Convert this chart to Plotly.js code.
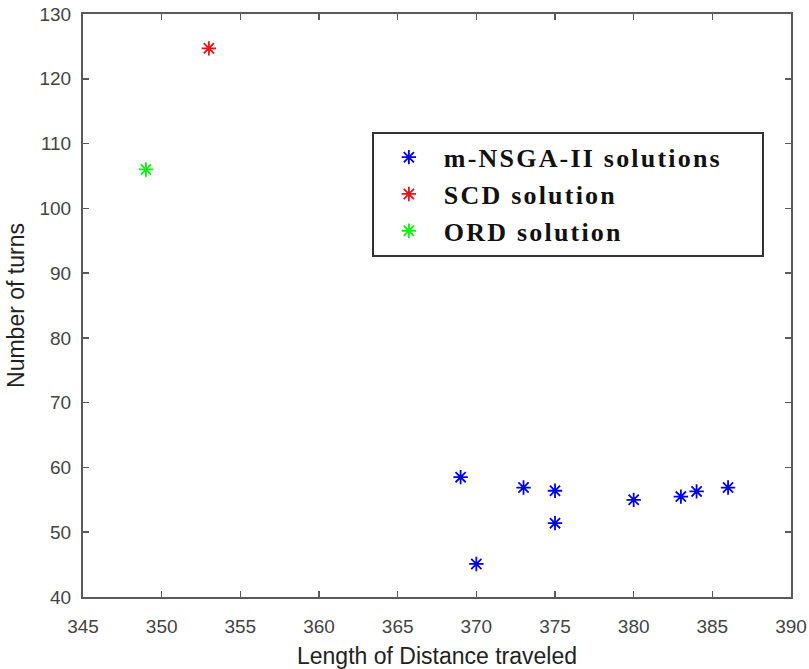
<!DOCTYPE html>
<html>
<head>
<meta charset="utf-8">
<script src="https://cdn.plot.ly/plotly-3.0.1.min.js"></script>
<style>html,body{margin:0;padding:0;background:#fff}#chart{width:809px;height:669px}</style>
</head>
<body>
<div id="chart"></div>
<script>
const nsgaX = [369, 370, 373, 375, 375, 380, 383, 384, 386];
const nsgaY = [58.5, 45.1, 56.9, 56.4, 51.4, 55.0, 55.5, 56.3, 56.9];
const scdX = [353];
const scdY = [124.7];
const ordX = [349];
const ordY = [106];
const xTicks = [345, 350, 355, 360, 365, 370, 375, 380, 385, 390];
const yTicks = [40, 50, 60, 70, 80, 90, 100, 110, 120, 130];
const seriesNames = ['m-NSGA-II solutions', 'SCD solution', 'ORD solution'];

function trace(x, y, name, color) {
  return {x: x, y: y, name: '<span style="letter-spacing:2.2px">' + name + '\u00A0\u00A0\u00A0\u00A0</span>', type: 'scatter', mode: 'markers',
    marker: {symbol: 'asterisk-open', size: 12, color: color, line: {color: color, width: 1.8}}};
}
const data = [
  trace(nsgaX, nsgaY, seriesNames[0], '#0000ee'),
  trace(scdX, scdY, seriesNames[1], '#ee1111'),
  trace(ordX, ordY, seriesNames[2], '#11ee11')
];
const axisCommon = {showgrid: false, zeroline: false, showline: true, mirror: 'ticks',
  linecolor: '#5a5a5a', linewidth: 2, ticks: 'inside', ticklen: 6, tickcolor: '#5a5a5a', tickwidth: 1.5,
  tickfont: {family: 'Liberation Sans, Arial', size: 19, color: '#444'}};
const layout = {
  width: 809, height: 669,
  margin: {l: 83, r: 18, t: 14, b: 72},
  paper_bgcolor: '#fff', plot_bgcolor: '#fff',
  showlegend: true,
  legend: {x: 0.408, y: 0.798, xanchor: 'left', yanchor: 'top',
    bordercolor: '#333', borderwidth: 2, bgcolor: '#fff',
    font: {family: 'Liberation Serif, Times New Roman', size: 26, color: '#111', weight: 'bold'},
    itemwidth: 60, tracegroupgap: 0},
  xaxis: Object.assign({}, axisCommon, {range: [345, 390], tickvals: xTicks, ticklabelstandoff: 11,
    title: {text: 'Length of Distance traveled', standoff: 13, font: {family: 'Liberation Sans, Arial', size: 23, color: '#222'}}}),
  yaxis: Object.assign({}, axisCommon, {range: [40, 130], tickvals: yTicks, ticklabelstandoff: 6,
    title: {text: 'Number of turns', standoff: 8, font: {family: 'Liberation Sans, Arial', size: 23, color: '#222'}}})
};
Plotly.newPlot('chart', data, layout, {displayModeBar: false, staticPlot: true});
</script>
</body>
</html>
